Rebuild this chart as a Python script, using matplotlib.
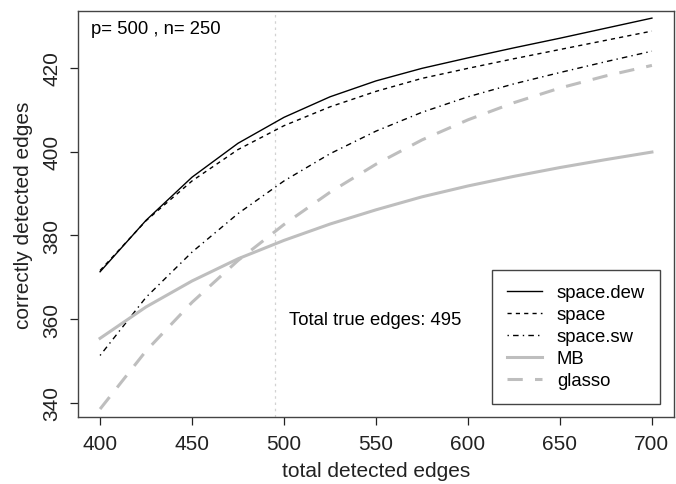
import numpy as np
import matplotlib
matplotlib.use("Agg")
from matplotlib import pyplot as plt

plt.rcParams['font.family'] = ['Liberation Sans', 'DejaVu Sans']

# values
total_edges = [400, 425, 450, 475, 500, 525, 550, 575, 600, 625, 650, 675, 700]
space_dew = [371.3, 383.6, 393.9, 402.0, 408.2, 413.1, 416.9, 419.9, 422.4, 424.8, 427.1, 429.5, 431.9]
space = [371.6, 383.5, 393.0, 400.5, 406.2, 410.7, 414.4, 417.5, 419.9, 422.2, 424.4, 426.6, 428.8]
space_sw = [351.3, 365.2, 376.0, 385.2, 393.0, 399.5, 404.9, 409.4, 413.1, 416.2, 418.9, 421.5, 424.0]
mb = [355.4, 362.9, 369.1, 374.4, 378.8, 382.7, 386.1, 389.2, 391.8, 394.1, 396.2, 398.1, 399.9]
glasso = [338.5, 352.4, 364.0, 374.0, 382.6, 390.3, 397.0, 402.8, 407.6, 411.7, 415.2, 418.1, 420.6]
true_edges = 495

grey = '#bebebe'

fig = plt.figure(figsize=(6.76, 4.85), dpi=100)
ax = fig.add_axes([78 / 676, 67 / 485, 596 / 676, 406 / 485])

ax.axvline(true_edges, color='#d2d2d2', lw=0.9, linestyle=(0, (2, 3)))

ax.plot(total_edges, space_dew, color='black', lw=1.0, label='space.dew')
ax.plot(total_edges, space, color='black', lw=1.0, dashes=(3, 3), label='space')
ax.plot(total_edges, space_sw, color='black', lw=1.0, dashes=(1, 3, 4, 3), label='space.sw')
ax.plot(total_edges, mb, color=grey, lw=2.2, label='MB')
ax.plot(total_edges, glasso, color=grey, lw=2.2, dashes=(5, 4), label='glasso')

ax.set_xlim(388, 712)
ax.set_ylim(336.6, 433.6)
ax.set_xticks([400, 450, 500, 550, 600, 650, 700])
ax.set_yticks([340, 360, 380, 400, 420])
ax.tick_params(direction='out', length=6, width=0.9, labelsize=15, colors='#222222', pad=6)
for lab in ax.get_yticklabels():
    lab.set_rotation(90)
    lab.set_va('center')
for sp in ax.spines.values():
    sp.set_color('#444444')
    sp.set_linewidth(1.0)

ax.set_xlabel('total detected edges', fontsize=15, labelpad=6, color='#222222')
ax.set_ylabel('correctly detected edges', fontsize=15, labelpad=7, color='#222222')

ax.text(395.1, 429.3, 'p= 500 , n= 250', fontsize=13.3, va='center', ha='left')
ax.text(502.9, 360.0, 'Total true edges: 495', fontsize=13.3, va='center', ha='left')

leg = ax.legend(loc='lower right', bbox_to_anchor=(0.9765, 0.032), fontsize=13.3,
                fancybox=False, framealpha=1, edgecolor='#444444',
                handlelength=1.9, handletextpad=0.8, labelspacing=0.27,
                borderpad=0.8, borderaxespad=0)
leg.get_frame().set_linewidth(1.0)

fig.savefig('out.png', dpi=100)
